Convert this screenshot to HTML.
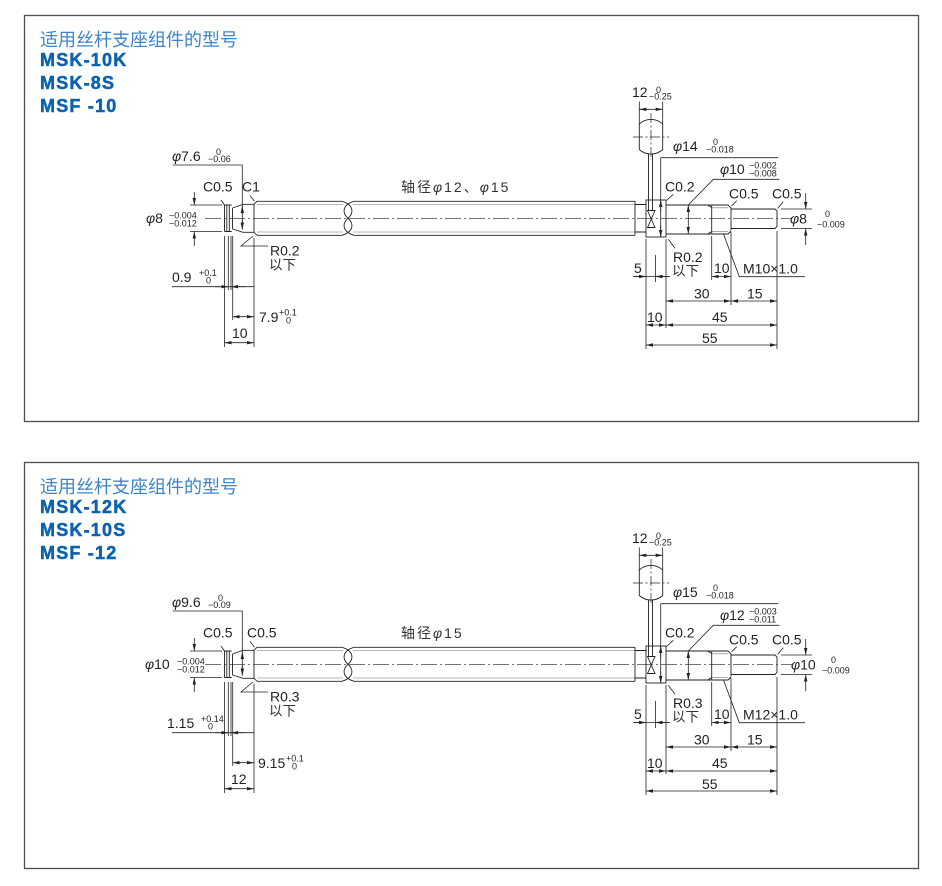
<!DOCTYPE html>
<html><head><meta charset="utf-8"><style>
html,body{margin:0;padding:0;background:#fff;}
svg{display:block;}
text{font-family:"Liberation Sans","Noto Sans CJK SC",sans-serif;fill:#231f20;}
.tt{font-size:18px;fill:#3d85c8;}
.md{font-size:18px;font-weight:bold;fill:#0b62b0;stroke:#0b62b0;stroke-width:0.5;letter-spacing:1.2px;}
.d{font-size:14px;}
.t{font-size:9px;}
.c{font-size:13.5px;fill:#333;}
.ax{font-size:14px;fill:#333;letter-spacing:2px;}
</style></head><body>
<svg width="942" height="886" viewBox="0 0 942 886" xmlns="http://www.w3.org/2000/svg">
<defs>
<marker id="ah" markerUnits="userSpaceOnUse" markerWidth="7" markerHeight="4" refX="7" refY="2" orient="auto-start-reverse" viewBox="0 0 7 4"><path d="M0,0.3 L7,2 L0,3.7z" fill="#222"/></marker>
<g id="geo" fill="none" stroke="#222" stroke-width="0.9">
 <line x1="205" y1="218.3" x2="792" y2="218.3" stroke-dasharray="16 3 2 3" stroke-width="0.7"/>
 <path d="M224.5,205 V231.5 M224.5,205 H231.7 M224.5,231.5 H231.7 M226.8,205 V231.5 M229.3,205 V231.5"/>
 <path d="M232.5,208 V229 M232.5,208 L243,204.3 H254 M232.5,229 L243,232.3 H254"/>
 <path d="M254,204.3 V232.3 M254,204.3 L257,201.3 M254,232.3 L257,235.3"/>
 <path d="M257,201.3 H342 M257,235.3 H342"/>
 <path d="M257,204.5 H343 M257,232 H343 M353,204.5 H635 M353,232 H635" stroke="#777" stroke-width="0.6"/>
 <path d="M342,201.3 C354,205 354,213 348,218.3 C342,223.6 342,231.6 354,235.3"/>
 <path d="M354,201.3 C342,205 342,213 348,218.3 C354,223.6 354,231.6 342,235.3"/>
 <path d="M354,201.3 H635 M354,235.3 H635 M635,201.3 V235.3"/>
 <path d="M635,204.5 H646 M635,232 H646"/>
 <rect x="646" y="200" width="20" height="37"/>
 <path d="M647.5,210.5 H655 L647.5,227.5 H655 Z"/>
 <path d="M648.5,154 V210.5 M652.5,154 V210.5"/>
 <path d="M666,205 H711.7 M666,234 H711.7"/>
 <path d="M711.7,205 V234 M711.7,205 H728 L731,208 V230.5 M711.7,234 H728 L731,231"/>
 <path d="M707.5,205 L711.7,207.5 M707.5,234 L711.7,231.5"/>
 <path d="M711.7,207.8 H728 M711.7,231.3 H728" stroke="#777" stroke-width="0.6"/>
 <path d="M731,209 H775 L777,211 V226.5 L775,228.5 H731"/>
 <path d="M639.3,124 A17.35,17.35 0 0 1 662.7,124 V149.5 A17.35,17.35 0 0 1 639.3,149.5 Z"/>
 <line x1="651" y1="113" x2="651" y2="160" stroke-dasharray="10 2.5 2 2.5" stroke-width="0.7"/>
 <line x1="633" y1="137" x2="669" y2="137" stroke-dasharray="10 2.5 2 2.5" stroke-width="0.7"/>
 <path d="M172.7,165 H242.3 V229.5" stroke-width="0.8"/>
 <line x1="242.3" y1="214" x2="242.3" y2="206" marker-end="url(#ah)" stroke-width="0.8"/>
 <line x1="242.3" y1="220" x2="242.3" y2="229.5" marker-end="url(#ah)" stroke-width="0.8"/>
 <path d="M190,205 H222 M190,231.5 H222" stroke-width="0.8"/>
 <line x1="194.3" y1="192" x2="194.3" y2="205" marker-end="url(#ah)" stroke-width="0.8"/>
 <line x1="194.3" y1="246" x2="194.3" y2="231.5" marker-end="url(#ah)" stroke-width="0.8"/>
 <path d="M221,200 L224.5,205 M250,195.5 L254.5,201.3 M253,236 L241,246 H268" stroke-width="0.8"/>
 <path d="M224.5,236 V347 M228.3,236 V290 M231,236 V290 M232.7,236 V320 M254,238 V347" stroke-width="0.8"/>
 <line x1="172" y1="286.7" x2="254" y2="286.7" stroke-width="0.8"/>
 <line x1="215" y1="286.7" x2="228.3" y2="286.7" marker-end="url(#ah)" stroke-width="0.8"/>
 <line x1="245" y1="286.7" x2="231" y2="286.7" marker-end="url(#ah)" stroke-width="0.8"/>
 <line x1="232.7" y1="316.7" x2="254" y2="316.7" marker-start="url(#ah)" marker-end="url(#ah)" stroke-width="0.8"/>
 <line x1="224.5" y1="342.7" x2="254" y2="342.7" marker-start="url(#ah)" marker-end="url(#ah)" stroke-width="0.8"/>
 <line x1="639.3" y1="109.3" x2="662.7" y2="109.3" marker-start="url(#ah)" marker-end="url(#ah)" stroke-width="0.8"/>
 <path d="M639.3,101.5 V124 M662.7,101.5 V124" stroke-width="0.8"/>
 <path d="M660.7,157.7 H778.3 M660.7,157.7 V237" stroke-width="0.8"/>
 <line x1="660.7" y1="212" x2="660.7" y2="200" marker-end="url(#ah)" stroke-width="0.8"/>
 <line x1="660.7" y1="225" x2="660.7" y2="237" marker-end="url(#ah)" stroke-width="0.8"/>
 <path d="M688.3,205 L713.3,179.3 H779.3" stroke-width="0.8"/>
 <line x1="688.3" y1="205" x2="688.3" y2="234" marker-start="url(#ah)" marker-end="url(#ah)" stroke-width="0.8"/>
 <path d="M673.3,194.3 L666.5,200.5 M736.7,200.7 L731.5,206 M783.3,201.7 L777.5,208.5" stroke-width="0.8"/>
 <path d="M781,209 H812 M781,228.5 H812" stroke-width="0.8"/>
 <line x1="805.7" y1="193" x2="805.7" y2="209" marker-end="url(#ah)" stroke-width="0.8"/>
 <line x1="805.7" y1="245" x2="805.7" y2="228.5" marker-end="url(#ah)" stroke-width="0.8"/>
 <path d="M723.3,233.5 L739.3,276.7 H805" stroke-width="0.8"/>
 <path d="M668.3,239.3 L675,248.3" stroke-width="0.8"/>
 <path d="M646,239 V349 M655.5,255 V282 M666,239 V328 M711.7,236 V280 M731,232 V305 M777,231 V349" stroke-width="0.8"/>
 <line x1="633" y1="276.5" x2="670" y2="276.5" stroke-width="0.8"/>
 <line x1="634" y1="276.5" x2="646" y2="276.5" marker-end="url(#ah)" stroke-width="0.8"/>
 <line x1="669" y1="276.5" x2="655.5" y2="276.5" marker-end="url(#ah)" stroke-width="0.8"/>
 <line x1="711.7" y1="276.5" x2="731" y2="276.5" marker-start="url(#ah)" marker-end="url(#ah)" stroke-width="0.8"/>
 <line x1="666" y1="301" x2="731" y2="301" marker-start="url(#ah)" marker-end="url(#ah)" stroke-width="0.8"/>
 <line x1="731" y1="301" x2="777" y2="301" marker-start="url(#ah)" marker-end="url(#ah)" stroke-width="0.8"/>
 <line x1="646" y1="325" x2="666" y2="325" marker-start="url(#ah)" marker-end="url(#ah)" stroke-width="0.8"/>
 <line x1="666" y1="325" x2="777" y2="325" marker-start="url(#ah)" marker-end="url(#ah)" stroke-width="0.8"/>
 <line x1="646" y1="345" x2="777" y2="345" marker-start="url(#ah)" marker-end="url(#ah)" stroke-width="0.8"/>
</g>
</defs>

<rect x="24.5" y="15.5" width="894" height="406" fill="none" stroke="#4d4d4d" stroke-width="1.3"/>
<rect x="24.5" y="462.5" width="894" height="406" fill="none" stroke="#4d4d4d" stroke-width="1.3"/>

<use href="#geo"/>
<use href="#geo" y="446"/>

<text x="40" y="46" class="tt">适用丝杆支座组件的型号</text>
<text x="40" y="66" class="md">MSK-10K</text>
<text x="40" y="89" class="md">MSK-8S</text>
<text x="40" y="112" class="md">MSF -10</text>

<text x="401" y="192" class="ax">轴径<tspan font-style="italic">φ</tspan>12、<tspan font-style="italic">φ</tspan>15</text>

<text x="172" y="161" class="d"><tspan font-style="italic">φ</tspan>7.6</text>
<text x="216" y="155" class="t">0</text>
<text x="208" y="162" class="t">−0.06</text>
<text x="146" y="223" class="d"><tspan font-style="italic">φ</tspan>8</text>
<text x="169" y="218.5" class="t">−0.004</text>
<text x="169" y="226.5" class="t">−0.012</text>
<text x="203" y="191.5" class="d">C0.5</text>
<text x="242" y="191.5" class="d">C1</text>
<text x="270" y="255.5" class="d">R0.2</text>
<text x="269" y="269.5" class="c">以下</text>
<text x="172" y="282" class="d">0.9</text>
<text x="199" y="276" class="t">+0.1</text>
<text x="206" y="283.5" class="t">0</text>
<text x="259" y="322" class="d">7.9</text>
<text x="279" y="315.5" class="t">+0.1</text>
<text x="286" y="323.5" class="t">0</text>
<text x="232" y="338" class="d">10</text>

<text x="632" y="97" class="d">12</text>
<text x="656" y="93" class="t">0</text>
<text x="649" y="99.5" class="t">−0.25</text>
<text x="673" y="151" class="d"><tspan font-style="italic">φ</tspan>14</text>
<text x="713" y="145" class="t">0</text>
<text x="706" y="152.5" class="t">−0.018</text>
<text x="720" y="174" class="d"><tspan font-style="italic">φ</tspan>10</text>
<text x="749" y="168.5" class="t">−0.002</text>
<text x="749" y="176.5" class="t">−0.008</text>
<text x="665" y="191.5" class="d">C0.2</text>
<text x="729" y="198.5" class="d">C0.5</text>
<text x="772" y="198.5" class="d">C0.5</text>
<text x="790" y="223.5" class="d"><tspan font-style="italic">φ</tspan>8</text>
<text x="825" y="217" class="t">0</text>
<text x="817" y="227.5" class="t">−0.009</text>
<text x="743" y="273.5" class="d">M10×1.0</text>
<text x="673" y="262" class="d">R0.2</text>
<text x="672" y="275.5" class="c">以下</text>
<text x="634" y="273" class="d">5</text>
<text x="714" y="273" class="d">10</text>
<text x="694" y="298.5" class="d">30</text>
<text x="747" y="298.5" class="d">15</text>
<text x="647" y="322" class="d">10</text>
<text x="712" y="322" class="d">45</text>
<text x="702" y="343" class="d">55</text>

<text x="40" y="493" class="tt">适用丝杆支座组件的型号</text>
<text x="40" y="513" class="md">MSK-12K</text>
<text x="40" y="536" class="md">MSK-10S</text>
<text x="40" y="559" class="md">MSF -12</text>

<text x="401" y="638" class="ax">轴径<tspan font-style="italic">φ</tspan>15</text>

<text x="172" y="607" class="d"><tspan font-style="italic">φ</tspan>9.6</text>
<text x="218" y="601" class="t">0</text>
<text x="208" y="608" class="t">−0.09</text>
<text x="145" y="669" class="d"><tspan font-style="italic">φ</tspan>10</text>
<text x="177" y="664.5" class="t">−0.004</text>
<text x="177" y="672.5" class="t">−0.012</text>
<text x="203" y="637.5" class="d">C0.5</text>
<text x="247" y="637.5" class="d">C0.5</text>
<text x="270" y="701.5" class="d">R0.3</text>
<text x="269" y="715.5" class="c">以下</text>
<text x="167" y="728" class="d">1.15</text>
<text x="201" y="722" class="t">+0.14</text>
<text x="208" y="729.5" class="t">0</text>
<text x="258" y="768" class="d">9.15</text>
<text x="286" y="761.5" class="t">+0.1</text>
<text x="292" y="769.5" class="t">0</text>
<text x="231" y="784" class="d">12</text>

<text x="632" y="543" class="d">12</text>
<text x="656" y="539" class="t">0</text>
<text x="649" y="545.5" class="t">−0.25</text>
<text x="673" y="597" class="d"><tspan font-style="italic">φ</tspan>15</text>
<text x="713" y="591" class="t">0</text>
<text x="706" y="598.5" class="t">−0.018</text>
<text x="720" y="620" class="d"><tspan font-style="italic">φ</tspan>12</text>
<text x="749" y="614.5" class="t">−0.003</text>
<text x="749" y="622.5" class="t">−0.011</text>
<text x="665" y="637.5" class="d">C0.2</text>
<text x="729" y="644.5" class="d">C0.5</text>
<text x="772" y="644.5" class="d">C0.5</text>
<text x="791" y="669.5" class="d"><tspan font-style="italic">φ</tspan>10</text>
<text x="831" y="663" class="t">0</text>
<text x="822" y="673.5" class="t">−0.009</text>
<text x="743" y="719.5" class="d">M12×1.0</text>
<text x="673" y="708" class="d">R0.3</text>
<text x="672" y="721.5" class="c">以下</text>
<text x="634" y="719" class="d">5</text>
<text x="714" y="719" class="d">10</text>
<text x="694" y="744.5" class="d">30</text>
<text x="747" y="744.5" class="d">15</text>
<text x="647" y="768" class="d">10</text>
<text x="712" y="768" class="d">45</text>
<text x="702" y="789" class="d">55</text>
</svg>
</body></html>
